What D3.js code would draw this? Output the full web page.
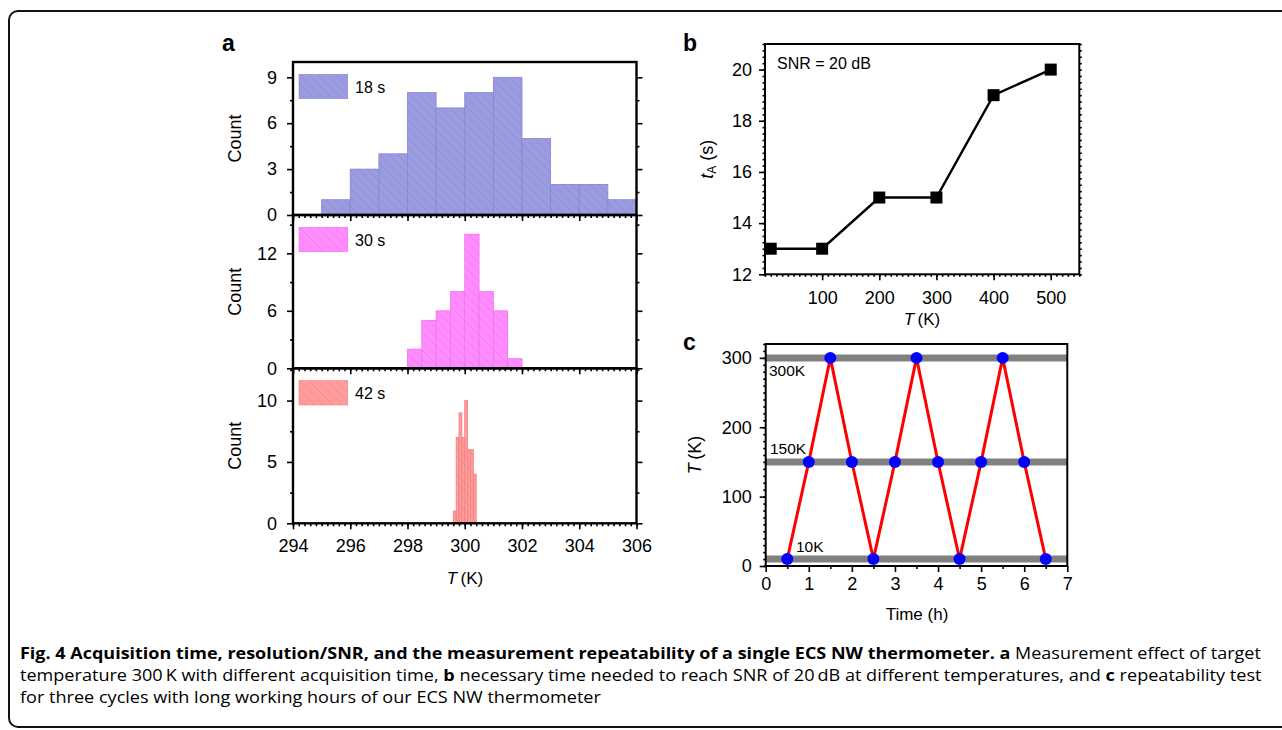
<!DOCTYPE html>
<html><head><meta charset="utf-8">
<script src="https://cdn.jsdelivr.net/npm/d3@7"></script>
<style>
body{margin:0;background:#fff}
svg{display:block}
text{font-family:"Liberation Sans",Arial,Helvetica,sans-serif;fill:#000}
.cap text{font-family:"Open Sans","Liberation Sans",sans-serif}
</style>
</head><body>
<svg id="chart" width="1282" height="730"></svg>
<script>
// ---------- data ----------
// panel a: histograms (bin start, counts), bin widths
const bins18 = [295,296,297,298,299,300,301,302,303,304,305];
const counts18 = [1,3,4,8,7,8,9,5,2,2,1];
const width18 = 1;
const bins30 = [298,298.5,299,299.5,300,300.5,301,301.5];
const counts30 = [2,5,6,8,14,8,6,1];
const width30 = 0.5;
const bins42 = [299.6,299.7,299.8,299.9,300.0,300.1,300.2,300.3];
const counts42 = [1,7,9,7,10,6,6,4];
const width42 = 0.1;
const histLabels = ["18 s","30 s","42 s"];
const histXTicks = [294,296,298,300,302,304,306];
const histYTicks = [[0,3,6,9],[0,6,12],[0,5,10]];

// panel b
const tempB = [10,100,200,300,400,500];
const tA = [13,13,15,15,19,20];
const bXTicks = [100,200,300,400,500];
const bYTicks = [12,14,16,18,20];

// panel c
const timeC = [0.5,1,1.5,2,2.5,3,3.5,4,4.5,5,5.5,6,6.5];
const tempC = [10,150,300,150,10,150,300,150,10,150,300,150,10];
const levels = [300,150,10];
const levelLabels = ["300K","150K","10K"];
const cXTicks = [0,1,2,3,4,5,6,7];
const cYTicks = [0,100,200,300];

const captionLines = [
  [["Fig. 4 Acquisition time, resolution/SNR, and the measurement repeatability of a single ECS NW thermometer.",true],[" ",false],["a",true],[" Measurement effect of target",false]],
  [["temperature 300\u2009K with different acquisition time, ",false],["b",true],[" necessary time needed to reach SNR of 20\u2009dB at different temperatures, and ",false],["c",true],[" repeatability test",false]],
  [["for three cycles with long working hours of our ECS NW thermometer",false]]
];

// ---------- drawing ----------
const svg = d3.select("#chart");
const defs = svg.append("defs");

svg.append("rect").attr("x",9).attr("y",11).attr("width",1320).attr("height",716)
  .attr("rx",9).attr("fill","none").attr("stroke","#111").attr("stroke-width",2);

function hatch(id, fill, line){
  const p = defs.append("pattern").attr("id",id).attr("patternUnits","userSpaceOnUse")
    .attr("width",9).attr("height",9);
  p.append("rect").attr("width",9).attr("height",9).attr("fill",fill);
  p.append("path").attr("d","M-2,-2L11,11M-2,7L2,11M7,-2L11,2")
    .attr("stroke",line).attr("stroke-width",0.6).attr("stroke-opacity",0.55);
}
hatch("h18","#9b9be0","#6f6fc8");
hatch("h30","#ff8cff","#d860d8");
hatch("h42","#ff9c9c","#e06a6a");

const tickFont = 18;

function styleAxis(g){
  g.select(".domain").remove();
  g.selectAll(".tick line").attr("stroke","#000").attr("stroke-width",1.6);
  g.selectAll(".tick text").attr("font-size",tickFont).attr("font-family",'"Liberation Sans",Arial,sans-serif');
}

// panel a
const ax = d3.scaleLinear().domain([294,306]).range([293,636.5]);
const panelsA = [
  {top:62, bottom:215, max:10, bins:bins18, counts:counts18, w:width18, fill:"url(#h18)", stroke:"#8585d6", lab:histLabels[0], yt:histYTicks[0], minor:1.5},
  {top:215, bottom:368.3, max:16, bins:bins30, counts:counts30, w:width30, fill:"url(#h30)", stroke:"#f070f0", lab:histLabels[1], yt:histYTicks[1], minor:3},
  {top:368.3, bottom:523.3, max:12.63, bins:bins42, counts:counts42, w:width42, fill:"url(#h42)", stroke:"#f58080", lab:histLabels[2], yt:histYTicks[2], minor:2.5}
];
const xMinor = d3.range(294,306.001,0.2);

panelsA.forEach((p,i)=>{
  const y = d3.scaleLinear().domain([0,p.max]).range([p.bottom,p.top]);
  const g = svg.append("g");
  g.selectAll("rect.bar").data(p.bins).join("rect").attr("class","bar")
    .attr("x",d=>ax(d)).attr("width",d=>ax(d+p.w)-ax(d))
    .attr("y",(d,j)=>y(p.counts[j])).attr("height",(d,j)=>y(0)-y(p.counts[j]))
    .attr("fill",p.fill).attr("stroke",p.stroke).attr("stroke-width",0.8);
  g.append("rect").attr("x",299).attr("y",p.top+12.3).attr("width",48.7).attr("height",24.4)
    .attr("fill",p.fill).attr("stroke",p.stroke).attr("stroke-width",0.6);
  g.append("text").attr("x",355).attr("y",p.top+30.5).attr("font-size",16).text(p.lab);
  const yMinor = d3.range(0,p.max+0.001,p.minor).filter(v=>!p.yt.includes(v));
  g.append("g").attr("transform","translate(293,0)").call(d3.axisLeft(y).tickValues(yMinor).tickSize(3).tickFormat(""))
    .call(styleAxis);
  g.append("g").attr("transform","translate(293,0)").call(d3.axisLeft(y).tickValues(p.yt).tickSize(6).tickPadding(10))
    .call(styleAxis);
  g.append("g").attr("transform","translate(636.5,0)").call(d3.axisRight(y).tickValues(yMinor).tickSize(3).tickFormat(""))
    .call(styleAxis);
  g.append("g").attr("transform","translate(636.5,0)").call(d3.axisRight(y).tickValues(p.yt).tickSize(6).tickFormat(""))
    .call(styleAxis);
  g.append("g").attr("transform",`translate(0,${p.bottom})`).call(d3.axisBottom(ax).tickValues(xMinor).tickSize(3).tickFormat(""))
    .call(styleAxis);
  g.append("g").attr("transform",`translate(0,${p.bottom})`)
    .call(d3.axisBottom(ax).tickValues(histXTicks).tickSize(6).tickPadding(10).tickFormat(i===2?d3.format("d"):""))
    .call(styleAxis);
  g.append("rect").attr("x",293).attr("y",p.top).attr("width",636.5-293).attr("height",p.bottom-p.top)
    .attr("fill","none").attr("stroke","#000").attr("stroke-width",2.4);
  g.append("text").attr("transform",`translate(235,${(p.top+p.bottom)/2}) rotate(-90)`)
    .attr("text-anchor","middle").attr("dominant-baseline","central").attr("font-size",18).text("Count");
});
svg.append("text").attr("x",222).attr("y",51).attr("font-size",23).attr("font-weight","bold").text("a");
{
  const t = svg.append("text").attr("x",465).attr("y",584).attr("text-anchor","middle").attr("font-size",17);
  t.append("tspan").attr("font-style","italic").text("T");
  t.append("tspan").text("\u2009(K)");
}

// panel b
{
  const L=765, R=1079.3, T=44, B=274.3;
  const x = d3.scaleLinear().domain([0,550]).range([L,R]);
  const y = d3.scaleLinear().domain([12,21]).range([B,T]);
  const g = svg.append("g");
  const yMinor = d3.range(12,21.001,0.25);
  const xMinor = d3.range(0,550.001,10);
  g.append("g").attr("transform",`translate(${L},0)`).call(d3.axisLeft(y).tickValues(yMinor).tickSize(2.5).tickFormat("")).call(styleAxis);
  g.append("g").attr("transform",`translate(${L},0)`).call(d3.axisLeft(y).tickValues(bYTicks).tickSize(6).tickPadding(7)).call(styleAxis);
  g.append("g").attr("transform",`translate(${R},0)`).call(d3.axisRight(y).tickValues(yMinor).tickSize(2.5).tickFormat("")).call(styleAxis);
  g.append("g").attr("transform",`translate(0,${B})`).call(d3.axisBottom(x).tickValues(xMinor).tickSize(2.5).tickFormat("")).call(styleAxis);
  g.append("g").attr("transform",`translate(0,${B})`).call(d3.axisBottom(x).tickValues(bXTicks).tickSize(6).tickPadding(11)).call(styleAxis);
  g.append("rect").attr("x",L).attr("y",T).attr("width",R-L).attr("height",B-T).attr("fill","none").attr("stroke","#000").attr("stroke-width",2);
  const line = d3.line().x((d,i)=>x(tempB[i])).y(d=>y(d));
  g.append("path").attr("d",line(tA)).attr("fill","none").attr("stroke","#000").attr("stroke-width",2.4);
  g.selectAll("rect.pt").data(tA).join("rect").attr("class","pt")
    .attr("x",(d,i)=>x(tempB[i])-6).attr("y",d=>y(d)-6).attr("width",12).attr("height",12).attr("fill","#000");
  g.append("text").attr("x",777).attr("y",69).attr("font-size",16).text("SNR = 20 dB");
  svg.append("text").attr("x",683).attr("y",51).attr("font-size",23).attr("font-weight","bold").text("b");
  const t = g.append("text").attr("x",922).attr("y",325).attr("text-anchor","middle").attr("font-size",17);
  t.append("tspan").attr("font-style","italic").text("T");
  t.append("tspan").text("\u2009(K)");
  const ty = g.append("text").attr("transform",`translate(707,${(T+B)/2}) rotate(-90)`)
    .attr("text-anchor","middle").attr("dominant-baseline","central").attr("font-size",18);
  ty.append("tspan").attr("font-style","italic").text("t");
  ty.append("tspan").attr("font-size",12).attr("dy",5).text("A");
  ty.append("tspan").attr("dy",-5).text(" (s)");
}

// panel c
{
  const L=765.7, R=1067.3, T=344, B=566;
  const x = d3.scaleLinear().domain([0,7]).range([L,R]);
  const y = d3.scaleLinear().domain([0,320]).range([B,T]);
  const g = svg.append("g");
  const yMinor = d3.range(0,320.001,10);
  g.append("g").attr("transform",`translate(${L},0)`).call(d3.axisLeft(y).tickValues(yMinor).tickSize(2.5).tickFormat("")).call(styleAxis);
  g.append("g").attr("transform",`translate(${L},0)`).call(d3.axisLeft(y).tickValues(cYTicks).tickSize(6).tickPadding(8)).call(styleAxis);
  g.append("g").attr("transform",`translate(0,${B})`).call(d3.axisBottom(x).tickValues(d3.range(0.5,7,1)).tickSize(3).tickFormat("")).call(styleAxis);
  g.append("g").attr("transform",`translate(0,${B})`).call(d3.axisBottom(x).tickValues(cXTicks).tickSize(6).tickPadding(5).tickFormat(d3.format("d"))).call(styleAxis);
  g.selectAll("line.band").data(levels).join("line").attr("class","band")
    .attr("x1",L).attr("x2",R).attr("y1",d=>y(d)).attr("y2",d=>y(d))
    .attr("stroke","#808080").attr("stroke-width",7);
  const lp = [[769,376],[770,454],[796,552]];
  g.selectAll("text.lvl").data(levelLabels).join("text").attr("class","lvl")
    .attr("x",(d,i)=>lp[i][0]).attr("y",(d,i)=>lp[i][1]).attr("font-size",15.5).text(d=>d);
  g.append("rect").attr("x",L).attr("y",T).attr("width",R-L).attr("height",B-T).attr("fill","none").attr("stroke","#000").attr("stroke-width",2);
  const line = d3.line().x((d,i)=>x(timeC[i])).y(d=>y(d));
  g.append("path").attr("d",line(tempC)).attr("fill","none").attr("stroke","#ff0000").attr("stroke-width",3);
  g.selectAll("circle.pt").data(tempC).join("circle").attr("class","pt")
    .attr("cx",(d,i)=>x(timeC[i])).attr("cy",d=>y(d)).attr("r",6).attr("fill","#0000ff");
  svg.append("text").attr("x",683).attr("y",350).attr("font-size",23).attr("font-weight","bold").text("c");
  g.append("text").attr("x",917).attr("y",620).attr("text-anchor","middle").attr("font-size",17).text("Time (h)");
  const ty = g.append("text").attr("transform",`translate(695,${(T+B)/2}) rotate(-90)`)
    .attr("text-anchor","middle").attr("dominant-baseline","central").attr("font-size",18);
  ty.append("tspan").attr("font-style","italic").text("T");
  ty.append("tspan").text("\u2009(K)");
}

// caption: lines 1 and 2 fitted to full width, line 3 uses line 2's horizontal scale
{
  const cap = svg.append("g").attr("class","cap");
  const ys = [659,681,703];
  const fullW = 1242;
  const items = captionLines.map((segs,i)=>{
    const g = cap.append("g");
    const t = g.append("text").attr("x",0).attr("y",0).attr("font-size",16).attr("fill","#1a1a1a");
    segs.forEach(s=>t.append("tspan").attr("font-weight",s[1]?"bold":"normal").text(s[0]));
    return {g, w:t.node().getComputedTextLength()};
  });
  const s1 = fullW/items[0].w, s2 = fullW/items[1].w;
  [s1,s2,s2].forEach((sx,i)=>items[i].g.attr("transform",`translate(20,${ys[i]}) scale(${sx},1)`));
}
</script>
</body></html>
